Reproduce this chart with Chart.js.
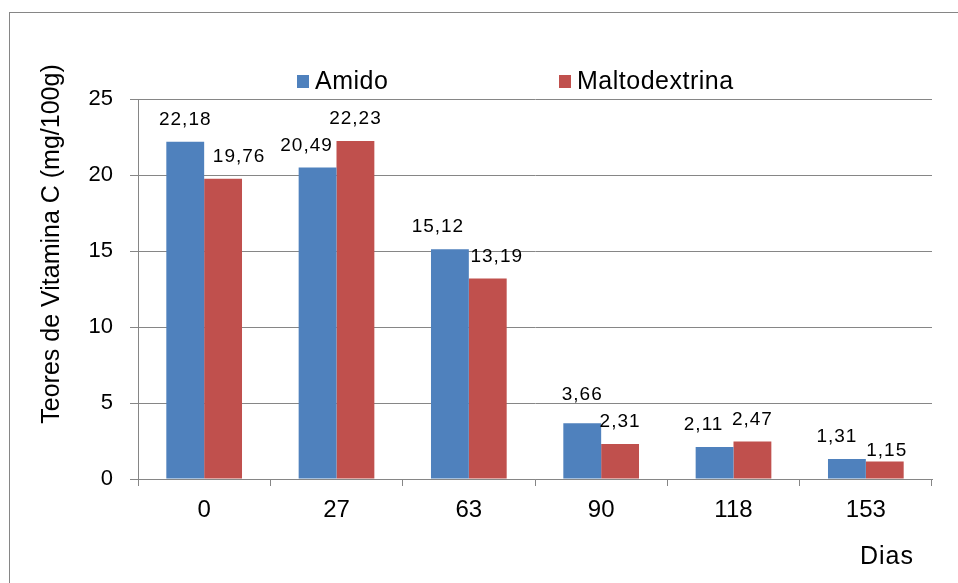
<!DOCTYPE html>
<html>
<head>
<meta charset="utf-8">
<script src="https://cdn.jsdelivr.net/npm/chart.js@4"></script>
<style>
  html, body { margin: 0; padding: 0; background: #fff; }
  #wrap { width: 958px; height: 583px; }
</style>
</head>
<body>
<div id="wrap"><canvas id="vitC" width="958" height="583"></canvas></div>
<script>
// Teores de vitamina C por dia de armazenamento
const dias = ['0', '27', '63', '90', '118', '153'];
const amido = [22.18, 20.49, 15.12, 3.66, 2.11, 1.31];
const maltodextrina = [19.76, 22.23, 13.19, 2.31, 2.47, 1.15];
const yTicks = [0, 5, 10, 15, 20, 25];

// small nudges of the value labels (as placed in the original)
const amidoLabelNudge = [[0, 0], [-11, 0], [-12, 0], [0, -7], [-11, 0], [-10, 0]];
const maltoLabelNudge = [[16, 0], [0, 0], [9, 0], [0, 0], [0, 0], [2, 11]];

const FONT = "'Liberation Sans', Arial, sans-serif";
const GRID = '#868686';
const BLUE = '#4F81BD';
const RED = '#C0504D';

const fmt = v => v.toFixed(2).replace('.', ',');

const extras = {
  id: 'extras',
  afterDatasetsDraw(chart) {
    const ctx = chart.ctx;
    const nudges = [amidoLabelNudge, maltoLabelNudge];
    ctx.save();
    ctx.fillStyle = '#000';
    ctx.font = `19px ${FONT}`;
    ctx.letterSpacing = '1px';
    ctx.textAlign = 'center';
    ctx.textBaseline = 'middle';
    chart.data.datasets.forEach((ds, di) => {
      chart.getDatasetMeta(di).data.forEach((bar, i) => {
        const [dx, dy] = nudges[di][i];
        ctx.fillText(fmt(ds.data[i]), bar.x + dx, bar.y - 22 + dy);
      });
    });
    ctx.restore();
  },
  afterDraw(chart) {
    const ctx = chart.ctx;
    ctx.save();
    // outer frame
    ctx.strokeStyle = GRID;
    ctx.lineWidth = 1;
    ctx.strokeRect(9.5, 12.5, 1200, 1200);

    // legend
    ctx.font = `25px ${FONT}`;
    ctx.letterSpacing = '0.5px';
    ctx.textBaseline = 'middle';
    ctx.textAlign = 'left';
    const items = [['Amido', BLUE, 297], ['Maltodextrina', RED, 559]];
    items.forEach(([txt, col, x]) => {
      ctx.fillStyle = col;
      ctx.fillRect(x, 75, 12, 13);
      ctx.fillStyle = '#000';
      ctx.fillText(txt, x + 18, 82);
    });

    // axis titles
    ctx.textAlign = 'center';
    ctx.letterSpacing = '1px';
    ctx.fillText('Dias', 887, 557);
    ctx.letterSpacing = '0px';
    ctx.translate(52, 244);
    ctx.rotate(-Math.PI / 2);
    ctx.fillText('Teores de Vitamina C (mg/100g)', 0, 0);
    ctx.restore();
  }
};

new Chart(document.getElementById('vitC'), {
  type: 'bar',
  data: {
    labels: dias,
    datasets: [
      { label: 'Amido', data: amido, backgroundColor: BLUE },
      { label: 'Maltodextrina', data: maltodextrina, backgroundColor: RED },
    ],
  },
  options: {
    responsive: false,
    animation: false,
    events: [],
    layout: { padding: { top: 99, right: 26, left: 0, bottom: 0 } },
    datasets: { bar: { barPercentage: 1, categoryPercentage: 0.572 } },
    plugins: { legend: { display: false }, tooltip: { enabled: false } },
    scales: {
      x: {
        afterFit: s => { s.height = 104; },
        grid: { drawOnChartArea: false, drawTicks: true, tickLength: 7, color: GRID, offset: true },
        border: { color: GRID },
        ticks: { color: '#000', font: { family: FONT, size: 24 }, padding: 10 },
      },
      y: {
        min: 0,
        max: 25,
        afterFit: s => { s.width = 138; },
        afterBuildTicks: s => { s.ticks = yTicks.map(v => ({ value: v })); },
        grid: { color: GRID, tickLength: 8 },
        border: { color: GRID },
        ticks: { color: '#000', font: { family: FONT, size: 22 }, padding: 17 },
      },
    },
  },
  plugins: [extras],
});
</script>
</body>
</html>
